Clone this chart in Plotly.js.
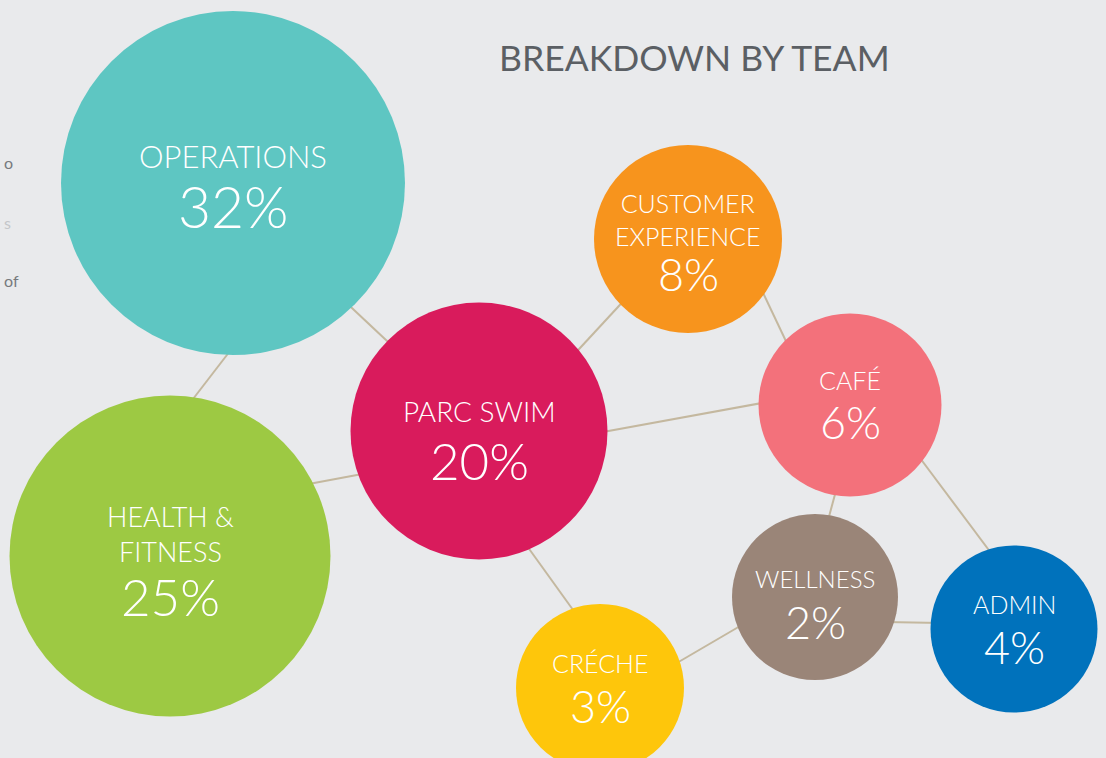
<!DOCTYPE html>
<html>
<head>
<meta charset="utf-8">
<script src="https://cdn.plot.ly/plotly-3.0.1.min.js"></script>
<style>html,body{margin:0;padding:0;background:#e9eaec;}#chart{width:1106px;height:758px;}</style>
</head>
<body>
<div id="chart"></div>
<script>
// ---- data ----
const teams = ["OPERATIONS", "HEALTH &<br>FITNESS", "PARC SWIM", "CUSTOMER<br>EXPERIENCE", "CAFÉ", "WELLNESS", "ADMIN", "CRÉCHE"];
const percents = [32, 25, 20, 8, 6, 2, 4, 3];
const teamColors = ["#5ec6c2", "#9dc943", "#d91b5c", "#f7941d", "#f3717b", "#9a8578", "#0072bc", "#fec60b"];

// ---- layout of the bubble network (pixel space) ----
const nodeX = [233, 170, 479, 688, 850, 815, 1014, 600];
const nodeY = [183, 556, 431, 239, 405, 597, 629, 688];
const nodeD = [344, 321, 257, 188, 183, 166, 167, 168];
const nameDY = [-27, -22, -20, -20, -25, -19, -25, -25];
const pctDY = [23, 40, 29, 35, 17, 25, 18, 18];
const nameSize = [31, 27, 28, 25, 25, 24, 25, 25];
const pctSize = [57, 51, 51, 45, 45, 45, 45, 45];

// connector segments (start/end points)
const linkX0 = [240, 337, 298, 568, 757, 592, 837, 914, 885, 522, 670];
const linkY0 = [338, 294, 486, 361, 280, 434, 487, 450, 622, 539, 667];
const linkX1 = [183, 403, 373, 630, 793, 773, 827, 997, 941, 581, 747];
const linkY1 = [412, 356, 472, 294, 356, 401, 524, 561, 623, 621, 622];

const lx = [], ly = [];
for (let i = 0; i < linkX0.length; i++) {
  lx.push(linkX0[i], linkX1[i], null);
  ly.push(linkY0[i], linkY1[i], null);
}

const traces = [
  {x: lx, y: ly, mode: "lines", type: "scatter", line: {color: "#c4b89f", width: 2}, hoverinfo: "skip"},
  {x: nodeX, y: nodeY, mode: "markers", type: "scatter",
   marker: {size: nodeD, sizemode: "diameter", sizeref: 1, color: teamColors, opacity: 1, line: {width: 0}},
   hoverinfo: "skip"}
];

const FONT = "Lato, 'Open Sans', sans-serif";
const annotations = [];
for (let i = 0; i < teams.length; i++) {
  annotations.push({x: nodeX[i], y: nodeY[i] + nameDY[i], xref: "x", yref: "y", text: teams[i], showarrow: false,
    xanchor: "center", yanchor: "middle", font: {family: FONT, size: nameSize[i], color: "#ffffff", weight: 300}});
  annotations.push({x: nodeX[i], y: nodeY[i] + pctDY[i], xref: "x", yref: "y", text: percents[i] + "%", showarrow: false,
    xanchor: "center", yanchor: "middle", font: {family: FONT, size: pctSize[i], color: "#ffffff", weight: 300}});
}
annotations.push({x: 694, y: 57, xref: "x", yref: "y", text: "BREAKDOWN BY TEAM", showarrow: false,
  xanchor: "center", yanchor: "middle", font: {family: FONT, size: 35.5, color: "#5b5f64", weight: 400}});
// body text fragments at the left edge
const edgeText = ["o", "s", "of"];
const edgeY = [162, 222, 280];
const edgeColor = ["#777a7e", "#c4c6c9", "#777a7e"];
for (let i = 0; i < edgeText.length; i++) {
  annotations.push({x: 2, y: edgeY[i], xref: "x", yref: "y", text: edgeText[i], showarrow: false,
    xanchor: "left", yanchor: "middle", font: {family: FONT, size: 16, color: edgeColor[i]}});
}

const layout = {
  width: 1106, height: 758,
  margin: {l: 0, r: 0, t: 0, b: 0},
  paper_bgcolor: "#e9eaec", plot_bgcolor: "#e9eaec",
  showlegend: false,
  xaxis: {range: [0, 1106], visible: false, fixedrange: true},
  yaxis: {range: [758, 0], visible: false, fixedrange: true},
  annotations: annotations
};
Plotly.newPlot("chart", traces, layout, {displayModeBar: false, staticPlot: true});
</script>
</body>
</html>
